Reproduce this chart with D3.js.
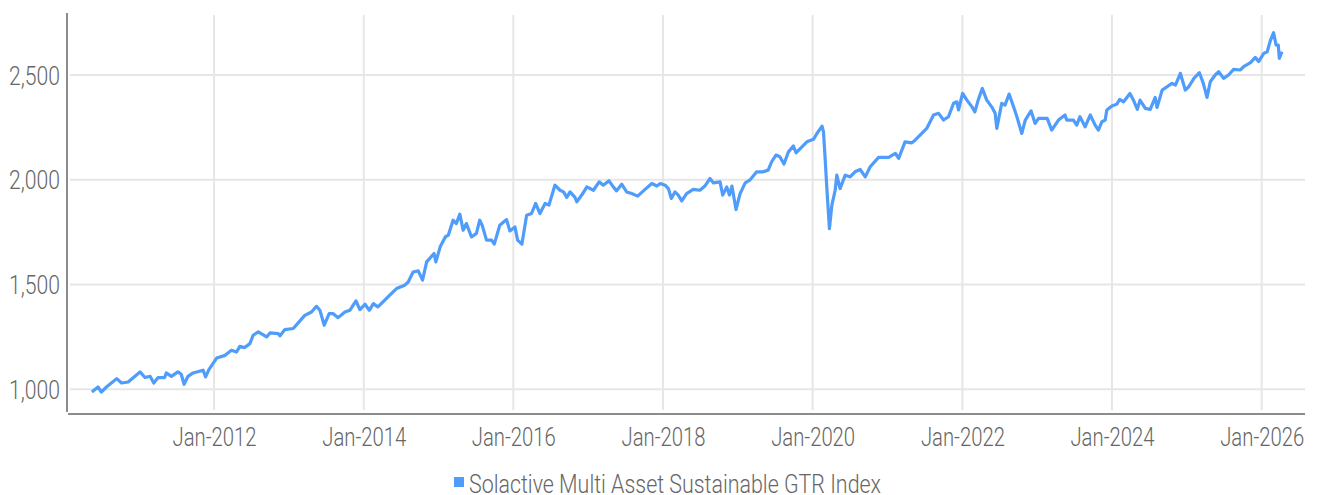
<!DOCTYPE html>
<html>
<head>
<meta charset="utf-8">
<script src="https://cdn.jsdelivr.net/npm/d3@7"></script>
<style>
  html, body { margin: 0; padding: 0; background: #fff; }
  svg text { font-family: Roboto, "Noto Sans", sans-serif; font-weight: 300; fill: #666; }
</style>
</head>
<body>
<svg id="chart" width="1317" height="495"></svg>
<script>
var seriesName = "Solactive Multi Asset Sustainable GTR Index";
var yTicks = [1000, 1500, 2000, 2500];
var xTickYears = [2012, 2014, 2016, 2018, 2020, 2022, 2024, 2026];

// index level, [date, level]
var levels = [
  ["2010-05-15", 987], ["2010-06-14", 1011], ["2010-06-30", 987], ["2010-07-25", 1011],
  ["2010-09-13", 1051], ["2010-10-07", 1030], ["2010-11-08", 1035], ["2011-01-05", 1083],
  ["2011-01-29", 1056], ["2011-02-23", 1062], ["2011-03-13", 1030], ["2011-04-03", 1056],
  ["2011-05-05", 1056], ["2011-05-13", 1078], ["2011-06-07", 1062], ["2011-07-09", 1083],
  ["2011-07-25", 1072], ["2011-08-08", 1024], ["2011-08-27", 1062], ["2011-09-21", 1078],
  ["2011-11-09", 1091], ["2011-11-21", 1059], ["2011-12-07", 1094],
  ["2012-01-14", 1149], ["2012-02-24", 1162], ["2012-03-26", 1186], ["2012-04-20", 1178],
  ["2012-05-06", 1205], ["2012-05-30", 1199], ["2012-06-24", 1218], ["2012-07-10", 1258],
  ["2012-08-04", 1274], ["2012-09-14", 1250], ["2012-09-30", 1269], ["2012-11-10", 1266],
  ["2012-11-18", 1255], ["2012-12-12", 1285],
  ["2013-01-22", 1290], ["2013-03-19", 1353], ["2013-04-21", 1369], ["2013-05-15", 1396],
  ["2013-06-01", 1377], ["2013-06-22", 1306], ["2013-07-16", 1361], ["2013-08-05", 1361],
  ["2013-08-29", 1342], ["2013-10-01", 1369], ["2013-10-25", 1377], ["2013-11-24", 1422],
  ["2013-12-13", 1380],
  ["2014-01-07", 1406], ["2014-01-28", 1377], ["2014-02-17", 1409], ["2014-03-11", 1393],
  ["2014-04-05", 1417], ["2014-05-08", 1449], ["2014-06-10", 1481], ["2014-07-20", 1497],
  ["2014-08-06", 1512], ["2014-08-30", 1560], ["2014-09-24", 1565], ["2014-10-15", 1521],
  ["2014-11-04", 1608], ["2014-12-10", 1648], ["2014-12-19", 1608],
  ["2015-01-09", 1680], ["2015-02-03", 1727], ["2015-02-18", 1736], ["2015-03-13", 1807],
  ["2015-03-29", 1791], ["2015-04-15", 1836], ["2015-05-01", 1759], ["2015-05-17", 1791],
  ["2015-06-11", 1727], ["2015-07-05", 1744], ["2015-07-21", 1807], ["2015-08-02", 1783],
  ["2015-08-23", 1712], ["2015-09-17", 1712], ["2015-09-30", 1693], ["2015-10-27", 1783],
  ["2015-11-29", 1810], ["2015-12-15", 1756],
  ["2016-01-09", 1775], ["2016-01-22", 1712], ["2016-02-12", 1693], ["2016-03-06", 1831],
  ["2016-03-30", 1839], ["2016-04-19", 1887], ["2016-05-10", 1839], ["2016-06-04", 1887],
  ["2016-06-23", 1879], ["2016-07-22", 1974], ["2016-08-16", 1950], ["2016-09-02", 1942],
  ["2016-09-18", 1916], ["2016-10-04", 1942], ["2016-10-28", 1916], ["2016-11-06", 1895],
  ["2016-11-30", 1927], ["2016-12-25", 1966],
  ["2017-01-26", 1950], ["2017-02-23", 1990], ["2017-03-15", 1974], ["2017-04-12", 1995],
  ["2017-05-03", 1966], ["2017-05-19", 1947], ["2017-06-13", 1979], ["2017-07-07", 1942],
  ["2017-08-01", 1934], ["2017-08-30", 1922], ["2017-09-27", 1947], ["2017-11-07", 1982],
  ["2017-12-02", 1970], ["2017-12-18", 1982],
  ["2018-01-11", 1974], ["2018-01-27", 1958], ["2018-02-10", 1911], ["2018-02-28", 1942],
  ["2018-03-16", 1927], ["2018-04-02", 1899], ["2018-04-26", 1934], ["2018-05-28", 1954],
  ["2018-06-30", 1950], ["2018-07-24", 1970], ["2018-08-18", 2006], ["2018-09-04", 1985],
  ["2018-10-06", 1990], ["2018-10-19", 1927], ["2018-11-08", 1966], ["2018-11-21", 1927],
  ["2018-12-03", 1970], ["2018-12-23", 1858],
  ["2019-01-12", 1934], ["2019-02-06", 1985], ["2019-02-28", 1998], ["2019-04-03", 2038],
  ["2019-05-05", 2038], ["2019-05-29", 2046], ["2019-06-15", 2086], ["2019-07-06", 2118],
  ["2019-07-25", 2110], ["2019-08-14", 2075], ["2019-09-05", 2133], ["2019-09-29", 2161],
  ["2019-10-12", 2129], ["2019-11-10", 2157], ["2019-12-04", 2181],
  ["2020-01-05", 2193], ["2020-01-22", 2221], ["2020-02-16", 2256], ["2020-02-23", 2229],
  ["2020-03-02", 2102], ["2020-03-10", 1966], ["2020-03-23", 1767], ["2020-04-04", 1879],
  ["2020-04-20", 1950], ["2020-04-28", 2022], ["2020-05-14", 1958], ["2020-06-08", 2022],
  ["2020-07-02", 2014], ["2020-07-26", 2038], ["2020-08-20", 2049], ["2020-09-14", 2014],
  ["2020-10-08", 2062], ["2020-11-18", 2107],
  ["2021-01-06", 2107], ["2021-02-08", 2126], ["2021-02-24", 2102], ["2021-03-27", 2181],
  ["2021-04-29", 2176], ["2021-05-15", 2189], ["2021-06-17", 2221], ["2021-07-11", 2245],
  ["2021-08-13", 2309], ["2021-09-07", 2317], ["2021-10-01", 2285], ["2021-10-25", 2301],
  ["2021-11-19", 2365], ["2021-12-05", 2372], ["2021-12-13", 2333],
  ["2022-01-02", 2412], ["2022-01-23", 2380], ["2022-02-17", 2348], ["2022-03-03", 2324],
  ["2022-03-19", 2380], ["2022-04-08", 2436], ["2022-04-30", 2380], ["2022-05-24", 2348],
  ["2022-06-10", 2317], ["2022-06-18", 2245], ["2022-07-12", 2365], ["2022-07-28", 2356],
  ["2022-08-17", 2409], ["2022-09-08", 2348], ["2022-09-24", 2301], ["2022-10-18", 2221],
  ["2022-11-04", 2285], ["2022-12-02", 2329], ["2022-12-22", 2269],
  ["2023-01-08", 2293], ["2023-02-19", 2293], ["2023-03-13", 2237], ["2023-04-15", 2285],
  ["2023-05-17", 2309], ["2023-05-25", 2285], ["2023-06-27", 2285], ["2023-07-13", 2261],
  ["2023-07-29", 2301], ["2023-08-23", 2253], ["2023-09-17", 2309], ["2023-10-11", 2261],
  ["2023-10-27", 2237], ["2023-11-13", 2277], ["2023-11-29", 2285], ["2023-12-07", 2333],
  ["2024-01-01", 2352], ["2024-01-25", 2361], ["2024-02-08", 2384], ["2024-02-27", 2372],
  ["2024-03-29", 2412], ["2024-04-15", 2380], ["2024-05-04", 2336], ["2024-05-17", 2380],
  ["2024-06-12", 2341], ["2024-07-06", 2336], ["2024-07-30", 2393], ["2024-08-08", 2345],
  ["2024-09-02", 2428], ["2024-09-26", 2444], ["2024-10-20", 2460], ["2024-11-06", 2452],
  ["2024-11-30", 2508], ["2024-12-24", 2428],
  ["2025-01-10", 2444], ["2025-02-04", 2484], ["2025-03-03", 2511], ["2025-03-22", 2460],
  ["2025-04-09", 2393], ["2025-04-25", 2468], ["2025-05-19", 2500], ["2025-06-05", 2516],
  ["2025-06-29", 2484], ["2025-07-23", 2500], ["2025-08-17", 2527], ["2025-09-19", 2524],
  ["2025-10-05", 2540], ["2025-11-07", 2559], ["2025-12-01", 2584], ["2025-12-17", 2564],
  ["2026-01-11", 2603], ["2026-01-28", 2611], ["2026-02-13", 2667], ["2026-02-28", 2702],
  ["2026-03-12", 2643], ["2026-03-23", 2643], ["2026-03-28", 2579], ["2026-04-10", 2611]
];

var parseDate = d3.timeParse("%Y-%m-%d");
var data = levels.map(function(d) { return { date: parseDate(d[0]), value: d[1] }; });

var svg = d3.select("#chart");
var lineColor = "#4f9cfb";
var gridColor = "#e6e6e6";
var axisColor = "#8c8c8c";

var plotLeft = 67, plotRight = 1305, plotTop = 14, plotBottom = 414;

var x = d3.scaleTime()
  .domain([new Date(2012, 0, 1), new Date(2026, 0, 1)])
  .range([214, 1261.7]);

var y = d3.scaleLinear()
  .domain([1000, 2500])
  .range([389.3, 75]);

// gridlines
var grid = svg.append("g").attr("class", "grid");
grid.selectAll("line.h")
  .data(yTicks)
  .enter().append("line")
    .attr("class", "h")
    .attr("x1", plotLeft + 3).attr("x2", plotRight)
    .attr("y1", function(d) { return y(d); })
    .attr("y2", function(d) { return y(d); })
    .attr("stroke", gridColor).attr("stroke-width", 2);

grid.selectAll("line.v")
  .data(xTickYears)
  .enter().append("line")
    .attr("class", "v")
    .attr("x1", function(d) { return x(new Date(d, 0, 1)); })
    .attr("x2", function(d) { return x(new Date(d, 0, 1)); })
    .attr("y1", plotTop + 1).attr("y2", plotBottom - 4)
    .attr("stroke", gridColor).attr("stroke-width", 2);

// y axis (labels squeezed to the condensed width of the original font)
var yAxis = d3.axisLeft(y)
  .tickValues(yTicks)
  .tickSize(0)
  .tickPadding(0)
  .tickFormat(d3.format(","));

var gy = svg.append("g")
  .attr("transform", "translate(60,0)")
  .call(yAxis);
gy.select(".domain").remove();
gy.selectAll("text")
  .attr("font-size", 25)
  .attr("dy", "0.36em")
  .attr("fill", "#666")
  .attr("textLength", 51)
  .attr("lengthAdjust", "spacingAndGlyphs")
  .style("font-family", null);

// x axis
var xAxis = d3.axisBottom(x)
  .tickValues(xTickYears.map(function(d) { return new Date(d, 0, 1); }))
  .tickSize(0)
  .tickPadding(0)
  .tickFormat(d3.timeFormat("%b-%Y"));

var gx = svg.append("g")
  .attr("transform", "translate(0,428)")
  .call(xAxis);
gx.select(".domain").remove();
gx.selectAll("text")
  .attr("font-size", 25)
  .attr("dy", "0.71em")
  .attr("fill", "#666")
  .attr("textLength", 84)
  .attr("lengthAdjust", "spacingAndGlyphs")
  .style("font-family", null);

// axis lines
svg.append("line")
  .attr("x1", plotLeft).attr("x2", plotLeft)
  .attr("y1", plotTop - 1).attr("y2", plotBottom - 2)
  .attr("stroke", axisColor).attr("stroke-width", 2);
svg.append("line")
  .attr("x1", plotLeft + 1).attr("x2", plotRight)
  .attr("y1", plotBottom).attr("y2", plotBottom)
  .attr("stroke", axisColor).attr("stroke-width", 2);

// the series
var line = d3.line()
  .x(function(d) { return x(d.date); })
  .y(function(d) { return y(d.value); });

svg.append("path")
  .datum(data)
  .attr("fill", "none")
  .attr("stroke", lineColor)
  .attr("stroke-width", 3.2)
  .attr("stroke-linejoin", "round")
  .attr("d", line);

// legend
var legend = svg.append("g").attr("transform", "translate(454,477)");
legend.append("rect")
  .attr("width", 10).attr("height", 10)
  .attr("fill", lineColor);
legend.append("text")
  .attr("x", 15).attr("y", 16)
  .attr("font-size", 25)
  .attr("textLength", 412)
  .attr("lengthAdjust", "spacingAndGlyphs")
  .text(seriesName);
</script>
</body>
</html>
